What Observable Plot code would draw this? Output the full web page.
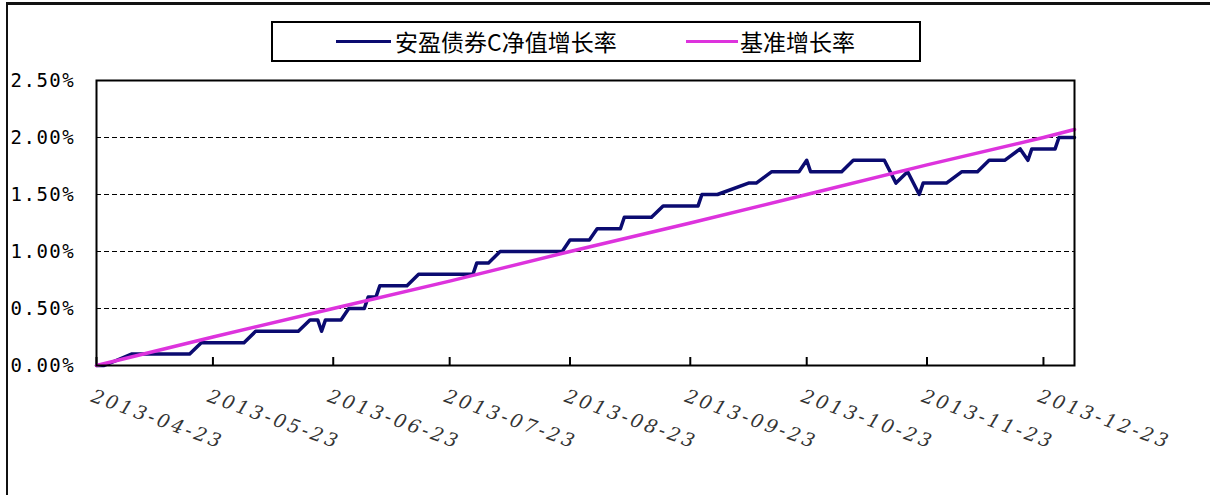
<!DOCTYPE html>
<html><head><meta charset="utf-8">
<script src="https://cdn.jsdelivr.net/npm/d3@7"></script>
<script src="https://cdn.jsdelivr.net/npm/@observablehq/plot@0.6"></script>
<style>
html,body{margin:0;padding:0;background:#fff;width:1210px;height:495px;overflow:hidden;}
#wrap{position:relative;width:1210px;height:495px;}
#outer{position:absolute;left:6px;top:2px;width:1220px;height:510px;border-left:2px solid #111;border-top:3px solid #111;pointer-events:none;}
#chart{position:absolute;left:0;top:0;}
#legend{position:absolute;left:271px;top:21px;width:646px;height:37px;border:2px solid #000;background:#fff;font-family:"Noto Sans CJK SC",sans-serif;font-size:23px;color:#000;}
#legend .ln{position:absolute;height:3px;top:17px;}
#legend .tx{position:absolute;top:0;line-height:37px;white-space:nowrap;}
</style></head>
<body><div id="wrap">
<div id="chart"></div>
<div id="legend"></div>
<div id="outer"></div>
</div>
<script>
// ---- data ----
const seriesNames = ["安盈债券C净值增长率", "基准增长率"];
const seriesColors = ["#0b0b70", "#dd33dd"];
const fundDates = ["2013-04-23","2013-04-25","2013-05-02","2013-05-17","2013-05-20","2013-05-31","2013-06-03","2013-06-14","2013-06-17","2013-06-19","2013-06-20","2013-06-21","2013-06-25","2013-06-27","2013-07-01","2013-07-02","2013-07-04","2013-07-05","2013-07-12","2013-07-15","2013-07-29","2013-07-30","2013-08-02","2013-08-05","2013-08-21","2013-08-23","2013-08-28","2013-08-30","2013-09-05","2013-09-06","2013-09-13","2013-09-16","2013-09-25","2013-09-26","2013-09-30","2013-10-08","2013-10-10","2013-10-14","2013-10-21","2013-10-23","2013-10-24","2013-11-01","2013-11-04","2013-11-12","2013-11-15","2013-11-18","2013-11-21","2013-11-22","2013-11-28","2013-12-02","2013-12-06","2013-12-09","2013-12-13","2013-12-17","2013-12-19","2013-12-20","2013-12-26","2013-12-27","2013-12-31"];
const fundValues = [0,0,0.1,0.1,0.2,0.2,0.3,0.3,0.4,0.4,0.3,0.4,0.4,0.5,0.5,0.6,0.6,0.7,0.7,0.8,0.8,0.9,0.9,1.0,1.0,1.1,1.1,1.2,1.2,1.3,1.3,1.4,1.4,1.5,1.5,1.6,1.6,1.7,1.7,1.8,1.7,1.7,1.8,1.8,1.6,1.7,1.5,1.6,1.6,1.7,1.7,1.8,1.8,1.9,1.8,1.9,1.9,2.0,2.0];
const benchDates = ["2013-04-23","2013-05-23","2013-06-23","2013-07-23","2013-08-23","2013-09-23","2013-10-23","2013-11-23","2013-12-23","2013-12-31"];
const benchValues = [0,0.25,0.50,0.74,1.00,1.25,1.50,1.76,2.00,2.07];
const xTickLabels = ["2013-04-23","2013-05-23","2013-06-23","2013-07-23","2013-08-23","2013-09-23","2013-10-23","2013-11-23","2013-12-23"];
const yTicks = [0,0.5,1.0,1.5,2.0,2.5];
const gridVals = [0.5,1.0,1.5,2.0];
const xDomain = ["2013-04-23","2013-12-31"];

// ---- build ----
const fundData = fundDates.map((d,i)=>({date:new Date(d), v:fundValues[i]}));
const benchData = benchDates.map((d,i)=>({date:new Date(d), v:benchValues[i]}));
const xTickDates = xTickLabels.map(d=>new Date(d));
const W = 1210, H = 495, mL = 96, mR = 136, mT = 80, mB = 130;
const plotH = H - mT - mB;

const chart = Plot.plot({
  width: W, height: H,
  marginLeft: mL, marginRight: mR, marginTop: mT, marginBottom: mB,
  style: {background: "transparent", overflow: "visible"},
  x: {type: "utc", domain: xDomain.map(d=>new Date(d)), label: null},
  y: {domain: [0, 2.5], label: null},
  marks: [
    Plot.gridY(gridVals, {stroke: "#000", strokeOpacity: 1, strokeWidth: 1.2, strokeDasharray: "5,3"}),
    Plot.axisY(yTicks, {label: null, tickSize: 0, tickPadding: 86, textAnchor: "start", fontSize: 19, fontFamily: "DejaVu Sans Mono", fill: "#000", tickFormat: d => d.toFixed(2) + "%"}),
    Plot.axisX(xTickDates, {label: null, tickSize: 0, tickPadding: 23, rotate: 20, textAnchor: "start", lineAnchor: "top", dx: -2, fontSize: 19, fontFamily: "DejaVu Serif", fontStyle: "italic", fill: "#333", tickFormat: d3.utcFormat("%Y-%m-%d")}),
    Plot.tickX(xTickDates, {x: d => d, stroke: "#000", strokeWidth: 2, insetTop: plotH - 8}),
    Plot.line(fundData, {x: "date", y: "v", stroke: seriesColors[0], strokeWidth: 3.5}),
    Plot.line(benchData, {x: "date", y: "v", stroke: seriesColors[1], strokeWidth: 3.5}),
    Plot.frame({stroke: "#000", strokeWidth: 2})
  ]
});
document.getElementById("chart").appendChild(chart);
const yl = chart.querySelector('g[aria-label="y-axis tick label"]');
if (yl) yl.style.letterSpacing = "1.5px";
const xl = chart.querySelector('g[aria-label="x-axis tick label"]');
if (xl) xl.style.letterSpacing = "3px";

// legend
const lg = document.getElementById("legend");
const legendPos = [{line: 63, lw: 55, text: 122}, {line: 413, lw: 52, text: 467}];
seriesNames.forEach((n, i) => {
  const l = document.createElement("div");
  l.className = "ln"; l.style.left = legendPos[i].line + "px"; l.style.width = legendPos[i].lw + "px"; l.style.background = seriesColors[i];
  lg.appendChild(l);
  const t = document.createElement("div");
  t.className = "tx"; t.style.left = legendPos[i].text + "px"; t.textContent = n;
  lg.appendChild(t);
});
</script>
</body></html>
